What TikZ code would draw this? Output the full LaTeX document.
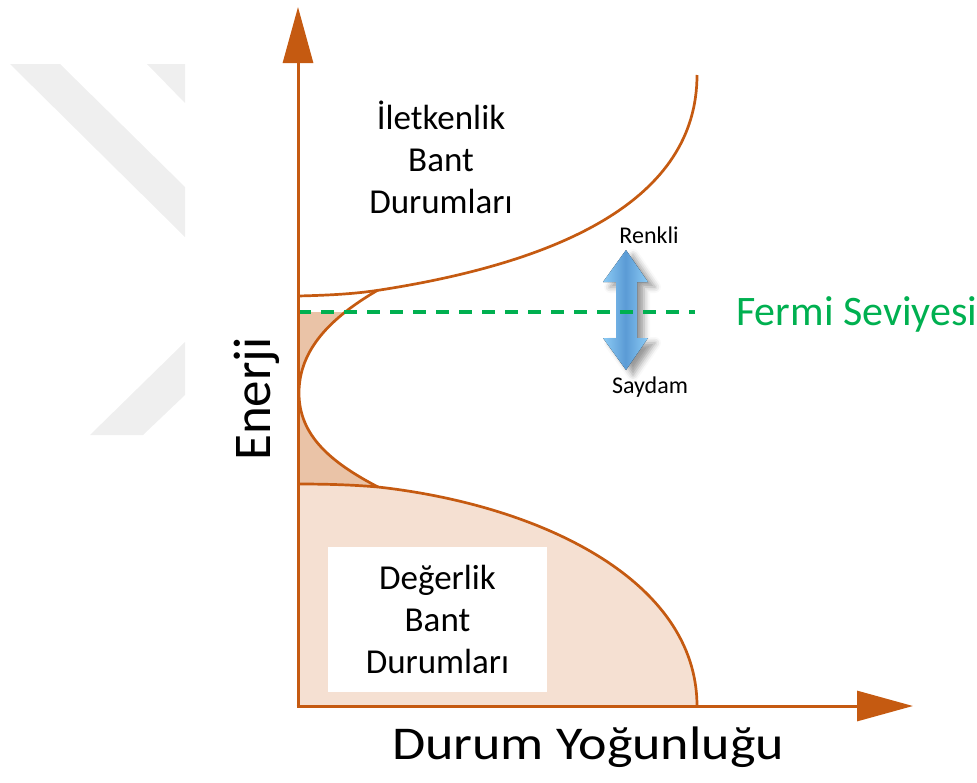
\documentclass[tikz,border=0pt]{standalone}
\usepackage{fontspec}
\setmainfont{Carlito}
\usetikzlibrary{arrows.meta, shadows.blur}

\definecolor{bandline}{HTML}{C55A11}
\definecolor{valfill}{HTML}{F5E0D2}
\definecolor{gapfill}{HTML}{EAC3A7}
\definecolor{fermigreen}{HTML}{00B050}
\definecolor{wmgray}{HTML}{EFEFEF}
\definecolor{arrowlight}{HTML}{8CCBF5}
\definecolor{arrowdark}{HTML}{5B9BD5}

\begin{document}
\begin{tikzpicture}[
    x=1pt, y=-1pt,
    axis/.style={line width=3pt, bandline, -{Triangle[width=30pt,length=56pt]}},
    band/.style={line width=2.7pt, bandline},
    fermiline/.style={line width=3.5pt, fermigreen, dash pattern=on 13pt off 10pt},
    bandtext/.style={font=\fontsize{35}{42}\selectfont, align=center, inner sep=0pt},
    axistext/.style={inner sep=0pt, anchor=base},
    smalltext/.style={font=\fontsize{24}{28}\selectfont, inner sep=0pt, anchor=base},
    valbox/.style={fill=white, minimum width=219pt, minimum height=145pt, inner sep=0pt},
    colorarrow/.style={left color=arrowlight, right color=arrowlight, middle color=arrowdark,
        blur shadow={shadow xshift=7pt, shadow yshift=-5pt, shadow blur radius=6pt, shadow opacity=40}},
]
\useasboundingbox (0,0) rectangle (977,782);

% watermark
\fill[wmgray] (10,64) -- (60,64) -- (185,187) -- (185,237) -- cycle;
\fill[wmgray] (147,64) -- (185,64) -- (185,103) -- cycle;
\fill[wmgray] (185,342) -- (185,395) -- (143,435) -- (90,435) -- cycle;

% fills
\begin{scope}
  \clip (298,312) rectangle (390,486);
  \fill[gapfill] (298,290) -- (378,290) .. controls (330,318) and (299,350) .. (299,393)
      .. controls (299,435) and (330,462) .. (378,487) -- (298,487) -- cycle;
\end{scope}
\fill[valfill] (298,484) .. controls (330,484) and (355,485) .. (378,487)
    .. controls (540,505) and (697,580) .. (697,706) -- (298,706) -- cycle;

\node[valbox, bandtext] (valence) at (437.5,619.5) {Değerlik\\Bant\\Durumları};
\node[bandtext] (conduction) at (441,157) {İletkenlik\\Bant\\Durumları};

% curves
\draw[band] (298,296) .. controls (340,295) and (360,293) .. (380,290)
    .. controls (560,262) and (697,200) .. (697,75);
\draw[band] (378,290) .. controls (330,318) and (299,350) .. (299,393)
    .. controls (299,435) and (330,462) .. (378,487);
\draw[band] (298,484) .. controls (330,484) and (355,485) .. (378,487)
    .. controls (540,505) and (697,580) .. (697,706);

% color change arrow
\fill[colorarrow] (626,250) -- (648,282) -- (637,282) -- (637,338) -- (648,338) -- (626,370)
    -- (603,338) -- (616,338) -- (616,282) -- (603,282) -- cycle;

% fermi level
\draw[fermiline] (298,312) -- (695,312);

% axes
\draw[axis] (298,707.5) -- (298,7);
\draw[axis] (296.5,706) -- (913,706);

% labels
\node[axistext, rotate=90, font=\fontsize{53}{60}\selectfont] (energy) at (270,399) {Enerji};
\node[axistext, font=\fontsize{47}{54}\selectfont] (dos) at (588,759) {\scalebox{1.15}[1]{Durum Yoğunluğu}};
\node[axistext, anchor=base west, fermigreen, font=\fontsize{42}{48}\selectfont] (fermi) at (736,325) {Fermi Seviyesi};
\node[smalltext] (colored) at (649,243) {Renkli};
\node[smalltext] (clear) at (650,393) {Saydam};
\end{tikzpicture}
\end{document}
